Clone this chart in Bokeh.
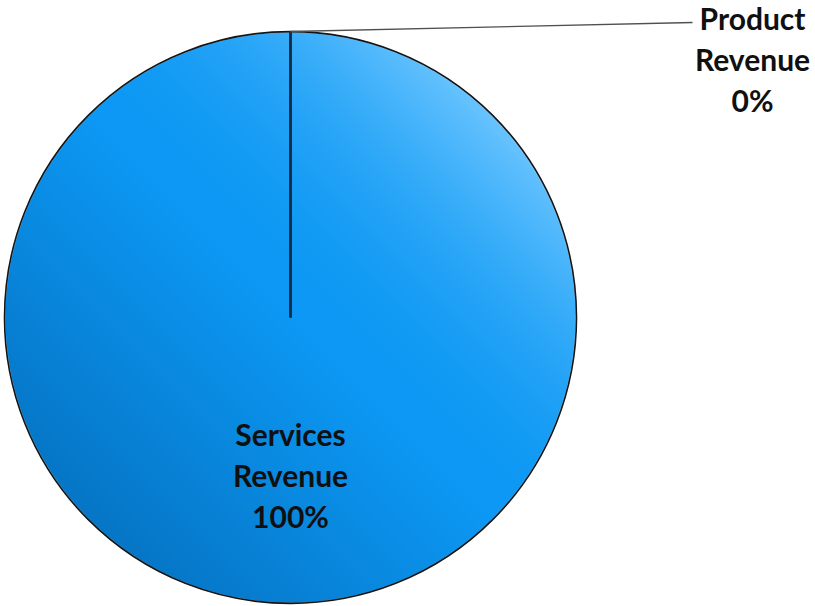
import numpy as np
from bokeh.plotting import figure
from bokeh.models import Range1d
from bokeh.core.properties import value
from bokeh.embed import file_html
from bokeh.resources import INLINE

# ---- data ----
categories = ["Services Revenue", "Product Revenue"]
values = [100, 0]

# ---- layout ----
W, H = 815, 606
CX, CY, R = 290.0, 317.0, 286.0          # pie centre / radius in screen px (y down)
PROD_LABEL = (752.0, 58.0)                # outside label centre (screen px)
LEADER_END = (692.0, 22.0)                # leader line end (screen px)
FONT = "Lato"
FS = 30
LINE_GAP = 41.0

p = figure(width=W, height=H, output_backend="svg", toolbar_location=None,
           x_range=Range1d(0, W), y_range=Range1d(0, H), min_border=0)
p.axis.visible = False
p.grid.visible = False
p.outline_line_color = None
p.background_fill_color = "white"
p.border_fill_color = "white"

cx, cy = CX, H - CY   # data coords (y up)

# ---- gradient filled disc (image masked to circle) ----
n = int(2 * R)
xs = np.linspace(-R, R, n)
X, Y = np.meshgrid(xs, xs)           # row 0 = bottom
d = np.sqrt(X**2 + Y**2)
u = np.clip((X + Y) / (np.sqrt(2) * R), -1, 1)
c_dark = np.array([6, 118, 198], dtype=float)
c_mid = np.array([12, 152, 244], dtype=float)
c_light = np.array([105, 196, 255], dtype=float)
t_hi = np.clip(u, 0, 1) ** 2
t_lo = np.clip(-u, 0, 1)
rgb = (c_mid[None, None, :]
       + t_hi[..., None] * (c_light - c_mid)[None, None, :]
       + t_lo[..., None] * (c_dark - c_mid)[None, None, :])
alpha = np.clip(R - d + 0.5, 0, 1) * 255
img = np.zeros((n, n), dtype=np.uint32)
view = img.view(dtype=np.uint8).reshape((n, n, 4))
view[..., 0] = rgb[..., 0].astype(np.uint8)
view[..., 1] = rgb[..., 1].astype(np.uint8)
view[..., 2] = rgb[..., 2].astype(np.uint8)
view[..., 3] = alpha.astype(np.uint8)
p.image_rgba(image=[img], x=cx - R, y=cy - R, dw=2 * R, dh=2 * R)

# ---- outline ----
p.circle(x=[cx], y=[cy], radius=R, fill_color=None, line_color="#151515", line_width=1.6)

# ---- slice boundaries ----
total = float(sum(values))
cum = np.concatenate([[0.0], np.cumsum(values) / total])
angles = np.pi / 2 - 2 * np.pi * cum   # clockwise from top
bx = [cx + R * np.cos(a) for a in angles]
by = [cy + R * np.sin(a) for a in angles]
p.segment(x0=[cx] * len(bx), y0=[cy] * len(by), x1=bx, y1=by,
          line_color="#142c44", line_width=2.2)

# ---- labels ----
def label_lines(name, v):
    pct = int(round(100 * v / total))
    return name.split(" ") + [f"{pct}%"]

# services: inside at mid angle
mid0 = (angles[0] + angles[1]) / 2
sx, sy = cx + 0.55 * R * np.cos(mid0), cy + 0.55 * R * np.sin(mid0)
lines = label_lines(categories[0], values[0])
k = len(lines)
p.text(x=[sx] * k, y=[sy + (k // 2 - i) * LINE_GAP for i in range(k)], text=lines,
       text_font=value(FONT), text_font_style="bold", text_font_size=f"{FS}px",
       text_color="#101010", text_align="center", text_baseline="middle")

# product: outside label with leader line
px, py = PROD_LABEL[0], H - PROD_LABEL[1]
lines = label_lines(categories[1], values[1])
k = len(lines)
p.text(x=[px] * k, y=[py + (k // 2 - i) * LINE_GAP for i in range(k)], text=lines,
       text_font=value(FONT), text_font_style="bold", text_font_size=f"{FS}px",
       text_color="#101010", text_align="center", text_baseline="middle")
p.segment(x0=[bx[1]], y0=[by[1]], x1=[LEADER_END[0]], y1=[H - LEADER_END[1]],
          line_color="#505050", line_width=1.4)

open("out.html", "w").write(file_html(p, INLINE))
